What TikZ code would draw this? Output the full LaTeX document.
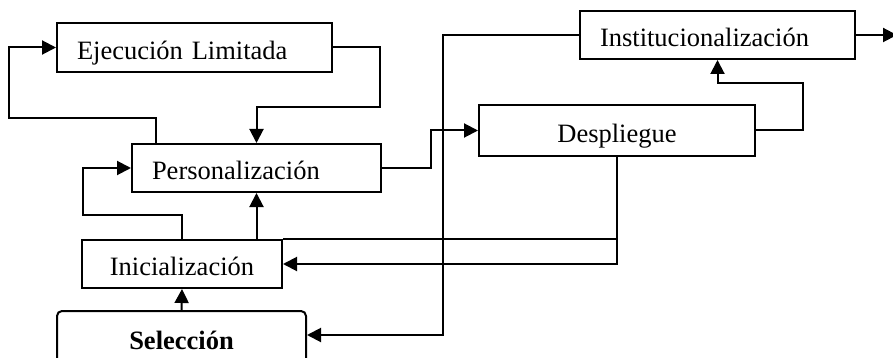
\documentclass[tikz,border=0pt]{standalone}
\usepackage{fontspec}
\setmainfont{Liberation Serif}
\usetikzlibrary{arrows.meta}
\begin{document}
\begin{tikzpicture}[x=1pt,y=-1pt,
  every node/.style={font=\fontsize{26.5}{30}\selectfont},
  box/.style={draw, line width=2pt, inner sep=0pt, minimum height=#1,
    text height=23.5pt, text depth=0pt},
  box/.default=49pt,
  lbox/.style={box, align=left, inner xsep=20pt, text width=#1},
  conn/.style={line width=2pt},
  arr/.style={conn, -{Triangle[length=14pt,width=14pt]}}]
\useasboundingbox (0,0) rectangle (893,358);

% boxes
\node[lbox=235pt] (ej) at (194.5,47.5) {Ejecución Limitada};
\node[lbox=209pt, minimum height=48pt] (pers) at (256.5,168) {Personalización};
\node[box=48pt, minimum width=200pt] (ini) at (182,264) {Inicialización};
\node[box=51pt, minimum width=276pt] (desp) at (617,130.5) {Despliegue};
\node[lbox=235pt, minimum height=48pt] (inst) at (717.5,35) {Institucionalización};
\node[draw, line width=2pt, inner sep=0pt, minimum height=58pt, minimum width=249pt,
  rounded corners=5pt, font=\fontsize{26.5}{30}\selectfont\bfseries]
  (sel) at (181.5,340) {Selección};

% routing points
\coordinate (loopL) at (9,118);
\coordinate (loopR) at (380,107);
\coordinate (iniL) at (83,215);
\coordinate (riseD) at (803,83);
\coordinate (drop) at (443,335);
\coordinate (out) at (897,35);

% connectors
\draw[arr] ([xshift=25pt]pers.north west) |- (loopL) |- (ej.west);
\draw[arr] (ej.east) -| (loopR) -| (pers.north);
\draw[arr] (ini.north) |- (iniL) |- (pers.west);
\draw[arr] (pers.south |- ini.north) -- (pers.south);
\draw[arr] (sel.north) -- (ini.south);
\draw[arr] (pers.east) -- ++(49,0) |- (desp.west);
\draw[arr] (desp.east) -| (riseD) -| (inst.south);
\draw[arr] (inst.west) -| (drop) -- (drop -| sel.east);
\draw[arr] (inst.east) -- (out);
\draw[arr] (desp.south) |- (ini.east);
\draw[conn] (desp.south |- ini.north) -- (ini.north east);
\end{tikzpicture}
\end{document}
